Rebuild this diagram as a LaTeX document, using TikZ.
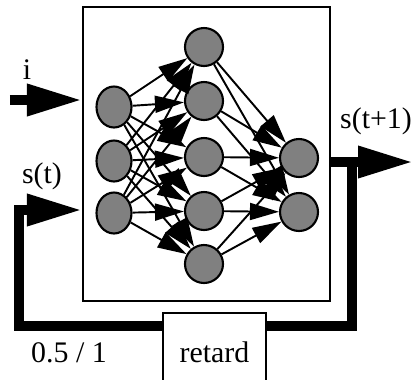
\documentclass[tikz,border=0pt]{standalone}
\usepackage{fontspec}
\setmainfont{Liberation Serif}
\usetikzlibrary{arrows.meta,positioning,calc,shapes.geometric}
\tikzset{
  neur/.style={ellipse, draw=black, line width=1.2pt, fill=gray, inner sep=0pt,
               minimum width=0.76cm, minimum height=0.76cm},
  inneur/.style={neur, minimum width=0.7cm, minimum height=0.82cm},
  syn/.style={-{Triangle[length=0.58cm, width=0.34cm]}, line width=1.1pt},
  fbk/.style={line width=5.5pt},
  bigarr/.style={fbk, -{Triangle[length=1.1cm, width=0.6cm]}},
  netbox/.style={draw, line width=1.2pt, minimum width=4.94cm, minimum height=5.88cm},
  retbox/.style={draw, fill=white, line width=1.1pt, minimum width=2.06cm, minimum height=1.56cm,
                 font=\fontsize{17}{20}\selectfont},
  lbl/.style={font=\fontsize{17}{20}\selectfont, inner sep=0pt},
}

\begin{document}
\begin{tikzpicture}[x=0.02cm, y=-0.02cm]
    \useasboundingbox (0,0) rectangle (414,380);
    \clip (0,0) rectangle (414,380);
    % network box
    \node[netbox] (net) at (206.5,154) {};
    % input layer
    \node[inneur] (i1) at (114,107) {};
    \node[inneur] (i2) at (114,161) {};
    \node[inneur] (i3) at (114,213) {};
    % hidden layer
    \node[neur] (h1) at (204,47) {};
    \node[neur] (h2) at (204,101) {};
    \node[neur] (h3) at (204,157) {};
    \node[neur] (h4) at (204,211) {};
    \node[neur] (h5) at (204,264) {};
    % output layer
    \node[neur] (o1) at (299,158) {};
    \node[neur] (o2) at (299,212) {};
    % weights
    \foreach \a in {1,2,3} \foreach \b in {1,...,5} \draw[syn] (i\a) -- (h\b);
    \foreach \b in {1,...,5} \foreach \c in {1,2} \draw[syn] (h\b) -- (o\c);
    % inputs, output and feedback
    \coordinate (iin) at (10,100);
    \coordinate (sturn) at (19,210);
    \coordinate (tap) at (352,162);
    \coordinate (oout) at (413,162);
    \node[retbox] (ret) at (214.5,352) {retard};
    \draw[bigarr] (iin) -- (iin -| net.west);
    \draw[bigarr] ([yshift=-2.8mm]ret.north west) -| (sturn) -- (sturn -| net.west);
    \draw[bigarr] (tap -| net.east) -- (oout);
    \draw[fbk] (tap) |- ([yshift=-2.8mm]ret.north east);
    % labels
    \node[lbl] (ilab) at (27,70) {i};
    \node[lbl] (stlab) at (42,176) {s(t)};
    \node[lbl] (stplab) at (376,121) {s(t+1)};
    \node[lbl] (ratio) at (69,353) {0.5 / 1};
  \end{tikzpicture}
\end{document}
